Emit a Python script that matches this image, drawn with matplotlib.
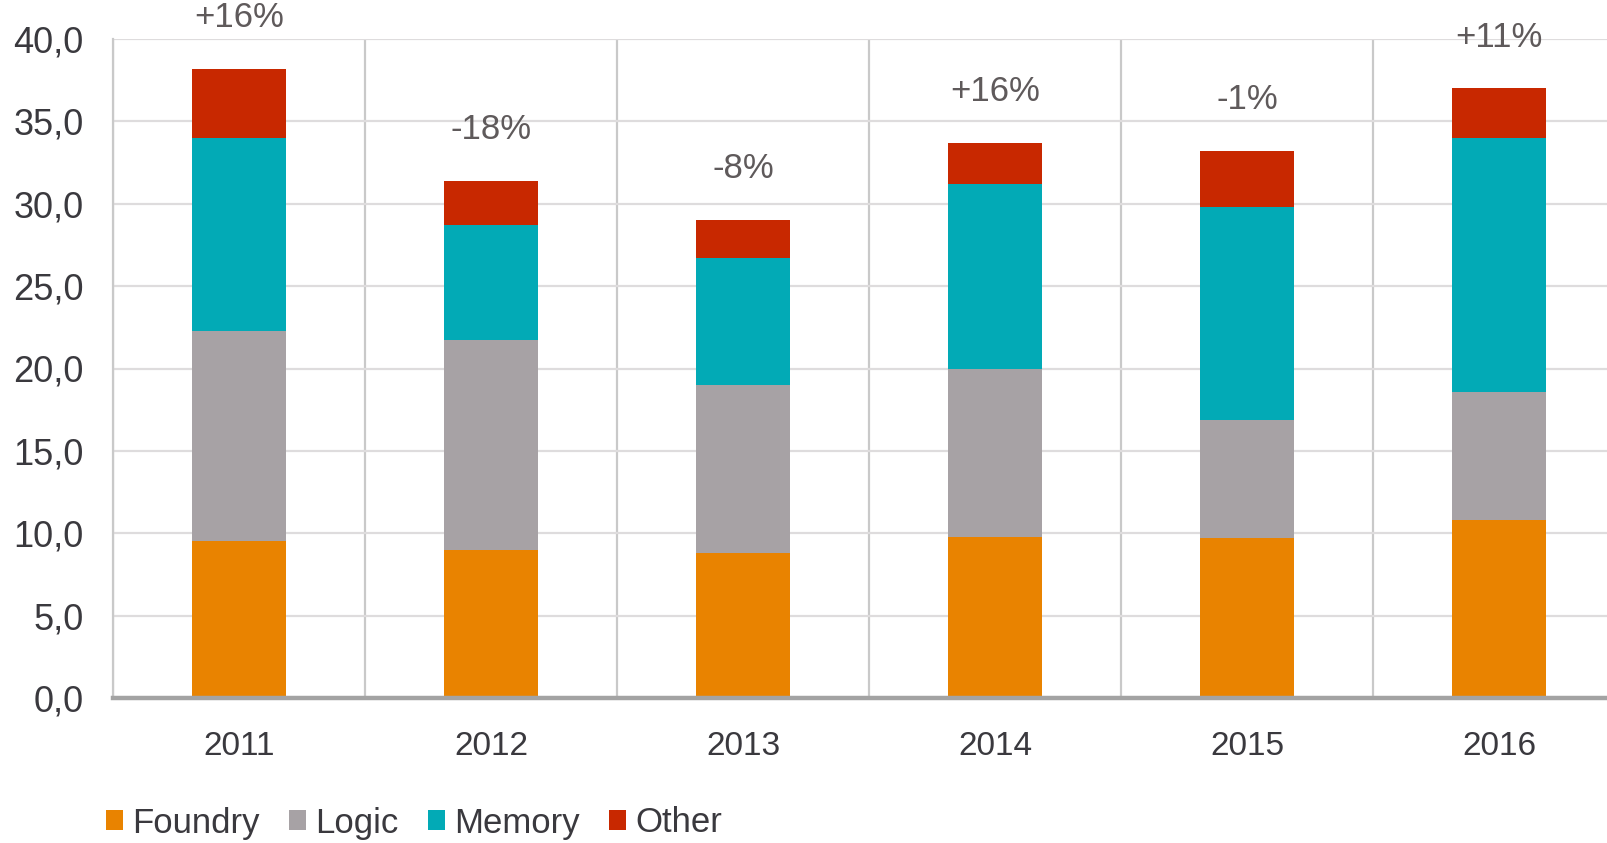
import numpy as np
import matplotlib
matplotlib.use("Agg")
import matplotlib.pyplot as plt
from matplotlib.patches import Patch

plt.rcParams['font.family'] = ['Liberation Sans', 'DejaVu Sans']

years = ["2011", "2012", "2013", "2014", "2015", "2016"]
foundry = [9.5, 9.0, 8.8, 9.8, 9.7, 10.8]
logic = [12.8, 12.7, 10.2, 10.2, 7.2, 7.8]
memory = [11.7, 7.0, 7.7, 11.2, 12.9, 15.4]
other = [4.2, 2.7, 2.3, 2.5, 3.4, 3.0]
growth = ["+16%", "-18%", "-8%", "+16%", "-1%", "+11%"]

series = [("Foundry", foundry, "#E98300"),
          ("Logic", logic, "#A7A2A5"),
          ("Memory", memory, "#02AAB6"),
          ("Other", other, "#C82800")]

W, H = 1608, 843
fig = plt.figure(figsize=(W / 100, H / 100), dpi=100)
ax = fig.add_axes([113 / W, 145 / H, 1 - 113 / W, (804 - 145) / H])

x = np.arange(len(years))
bottom = np.zeros(len(years))
for name, vals, col in series:
    ax.bar(x, vals, width=0.37, bottom=bottom, color=col, label=name, zorder=3)
    bottom += np.array(vals)

for xi, tot, lab in zip(x, bottom, growth):
    ax.annotate(lab, (xi, tot), xytext=(0, 37), textcoords="offset points",
                ha="center", va="center", fontsize=25, color="#5f5a5b")

ax.set_ylim(0, 40)
ax.set_xlim(-0.5, -0.5 + (W - 113) / 252)
ax.set_yticks(np.arange(0, 41, 5))
ax.set_yticklabels([f"{v:.1f}".replace(".", ",") for v in np.arange(0, 41, 5)])
ax.set_xticks(x)
ax.set_xticklabels(years)
ax.tick_params(axis="y", length=0, pad=21, labelsize=26, labelcolor="#3a393e")
ax.tick_params(axis="x", length=0, pad=24, labelsize=24, labelcolor="#3a393e")

ax.yaxis.grid(True, color="#dedcdd", linewidth=1.6, zorder=0)
for b in np.arange(-0.5, len(years), 1.0):
    ax.axvline(b, color="#c9c9c9", linewidth=1.6, zorder=1)

for s in ["top", "right"]:
    ax.spines[s].set_visible(False)
ax.spines["left"].set_color("#c9c9c9")
ax.spines["left"].set_linewidth(1.6)
ax.spines["bottom"].set_color("#a3a3a3")
ax.spines["bottom"].set_linewidth(3.2)
ax.spines["bottom"].set_zorder(4)

handles = [Patch(facecolor=c, edgecolor="none") for _, _, c in series]
fig.legend(handles, [n for n, _, _ in series], loc="center left",
           bbox_to_anchor=(106 / W, 1 - 823 / H), ncol=4, frameon=False,
           fontsize=25, handlelength=0.5, handleheight=0.5,
           handletextpad=0.25, columnspacing=0.85, borderpad=0,
           borderaxespad=0, labelcolor="#3a393e")

fig.savefig("out.png", dpi=100, facecolor="white")
